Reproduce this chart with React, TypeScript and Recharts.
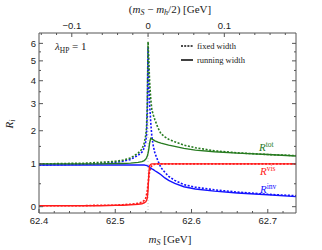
import { LineChart, Line, XAxis, YAxis, ReferenceLine } from 'recharts';

// m_S grid [GeV]
const mS = [62.40, 62.43, 62.46, 62.48, 62.50, 62.51, 62.52, 62.53, 62.535, 62.538, 62.540, 62.541, 62.542, 62.543, 62.544, 62.545, 62.5465, 62.548, 62.55, 62.552, 62.556, 62.56, 62.565, 62.57, 62.578, 62.59, 62.605, 62.63, 62.66, 62.70, 62.737];

// fixed width (dotted)
const totFixed = [1.00, 1.01, 1.02, 1.04, 1.07, 1.10, 1.16, 1.30, 1.42, 1.60, 1.85, 2.10, 3.00, 6.10, 5.00, 4.00, 3.20, 2.75, 2.55, 2.38, 2.10, 1.90, 1.80, 1.72, 1.64, 1.54, 1.46, 1.37, 1.31, 1.26, 1.23];
const invFixed = [0.97, 0.98, 0.99, 1.01, 1.04, 1.07, 1.12, 1.24, 1.33, 1.45, 1.65, 1.85, 2.70, 5.80, 4.00, 3.00, 2.30, 1.80, 1.50, 1.30, 1.08, 0.90, 0.78, 0.68, 0.58, 0.48, 0.42, 0.36, 0.31, 0.26, 0.23];
const visFixed = [0.02, 0.02, 0.02, 0.03, 0.03, 0.04, 0.05, 0.07, 0.09, 0.13, 0.18, 0.25, 0.35, 0.50, 0.65, 0.80, 0.90, 0.95, 0.98, 0.99, 1, 1, 1, 1, 1, 1, 1, 1, 1, 1, 1];

// running width (solid)
const totRun = [1.00, 1.00, 1.00, 1.00, 1.01, 1.01, 1.02, 1.04, 1.06, 1.09, 1.13, 1.17, 1.22, 1.30, 1.42, 1.60, 1.75, 1.73, 1.70, 1.67, 1.63, 1.60, 1.57, 1.54, 1.50, 1.44, 1.39, 1.34, 1.30, 1.26, 1.22];
const invRun = [0.97, 0.97, 0.97, 0.97, 0.97, 0.97, 0.97, 0.97, 0.97, 0.97, 0.96, 0.96, 0.95, 0.94, 0.93, 0.91, 0.89, 0.87, 0.85, 0.82, 0.77, 0.72, 0.64, 0.58, 0.51, 0.43, 0.38, 0.33, 0.29, 0.25, 0.21];
const visRun = [0.02, 0.02, 0.02, 0.02, 0.03, 0.03, 0.04, 0.05, 0.06, 0.08, 0.10, 0.13, 0.18, 0.35, 0.75, 0.95, 0.99, 1, 1, 1, 1, 1, 1, 1, 1, 1, 1, 1, 1, 1, 1];

const halfMh = 62.543;
const xMajor = [62.4, 62.5, 62.6, 62.7];
const xTicks = Array.from({ length: 17 }, (_, i) => +(62.4 + i * 0.02).toFixed(3));
const topMajor = [-0.1, 0, 0.1];
const topTicks = Array.from({ length: 17 }, (_, i) => +(halfMh + (i - 7) * 0.02).toFixed(4));
const yMajor = [0, 1, 2, 3, 4, 5, 6];
const yMinor = [0.5, 1.5, 2.5, 3.5, 4.5, 5.5];

// y axis is drawn on a log(R + 3) scale
const tf = (v: number) => Math.log(v + 3);
const inv = (t: number) => Math.exp(t) - 3;

const data = mS.map((m, i) => ({
  m,
  totFixed: tf(totFixed[i]),
  invFixed: tf(invFixed[i]),
  visFixed: tf(visFixed[i]),
  totRun: tf(totRun[i]),
  invRun: tf(invRun[i]),
  visRun: tf(visRun[i]),
}));

const yTicks = [...yMajor, ...yMinor].sort((a, b) => a - b).map(tf);

const GREEN = '#267a1f';
const RED = '#ff1a1a';
const BLUE = '#1414ff';
const AXIS = '#555';
const tickFont = { fontFamily: 'Liberation Sans, Arial, sans-serif', fontSize: 9.5, fill: '#222' };
const serif = 'Liberation Serif, Times New Roman, serif';

const near = (a: number, arr: number[]) => arr.some((b) => Math.abs(a - b) < 1e-6);

const FrameTick = (props: any) => {
  const { x, y, payload, side } = props;
  const v = payload.value;
  let major = false;
  let label = '';
  if (side === 'bottom') {
    major = near(v, xMajor);
    label = major ? v.toFixed(1) : '';
  } else if (side === 'top') {
    const d = +(v - halfMh).toFixed(4);
    major = near(d, topMajor);
    label = major ? (Math.abs(d) < 1e-6 ? '0' : d < 0 ? '\u2212' + Math.abs(d).toFixed(1) : d.toFixed(1)) : '';
  } else {
    const r = inv(v);
    major = near(Math.round(r * 100) / 100, yMajor);
    label = side === 'left' && major ? String(Math.round(r)) : '';
  }
  const len = major ? 4 : 2;
  if (side === 'bottom')
    return (
      <g>
        <line x1={x} x2={x} y1={y} y2={y - len} stroke={AXIS} />
        {label && <text x={x} y={y + 11} textAnchor="middle" {...tickFont}>{label}</text>}
      </g>
    );
  if (side === 'top')
    return (
      <g>
        <line x1={x} x2={x} y1={y} y2={y + len} stroke={AXIS} />
        {label && <text x={x} y={y - 4} textAnchor="middle" {...tickFont}>{label}</text>}
      </g>
    );
  if (side === 'left')
    return (
      <g>
        <line x1={x} x2={x + len} y1={y} y2={y} stroke={AXIS} />
        {label && <text x={x - 3} y={y + 3.5} textAnchor="end" {...tickFont}>{label}</text>}
      </g>
    );
  return <line x1={x} x2={x - len} y1={y} y2={y} stroke={AXIS} />;
};

const dotted = '2 1.6';

export default function App() {
  return (
    <div style={{ position: 'absolute', left: 0, top: 0, width: 322, height: 250 }}>
      <LineChart width={322} height={250} data={data} margin={{ top: 0, right: 0, bottom: 0, left: 0 }}>
        <XAxis
          dataKey="m"
          type="number"
          domain={[62.4, 62.737]}
          ticks={xTicks}
          interval={0}
          height={37}
          tickSize={0}
          tickMargin={0}
          stroke={AXIS}
          tick={(p: any) => <FrameTick {...p} side="bottom" />}
          allowDataOverflow
        />
        <XAxis
          xAxisId="top"
          orientation="top"
          dataKey="m"
          type="number"
          domain={[62.4, 62.737]}
          ticks={topTicks}
          interval={0}
          height={33}
          tickSize={0}
          tickMargin={0}
          stroke={AXIS}
          tick={(p: any) => <FrameTick {...p} side="top" />}
          allowDataOverflow
        />
        <YAxis
          type="number"
          domain={[tf(-0.125), tf(6.65)]}
          ticks={yTicks}
          interval={0}
          width={39}
          tickSize={0}
          tickMargin={0}
          stroke={AXIS}
          tick={(p: any) => <FrameTick {...p} side="left" />}
          allowDataOverflow
        />
        <YAxis
          yAxisId="right"
          orientation="right"
          type="number"
          domain={[tf(-0.125), tf(6.65)]}
          ticks={yTicks}
          interval={0}
          width={26}
          tickSize={0}
          tickMargin={0}
          stroke={AXIS}
          tick={(p: any) => <FrameTick {...p} side="right" />}
          allowDataOverflow
        />
        <ReferenceLine x={halfMh} stroke="#c8c8c8" strokeWidth={1} strokeDasharray="1 2" />
        <Line xAxisId="top" yAxisId="right" dataKey="totRun" stroke="none" dot={false} isAnimationActive={false} />
        <Line dataKey="invFixed" stroke={BLUE} strokeWidth={1.6} strokeDasharray={dotted} dot={false} isAnimationActive={false} />
        <Line dataKey="totFixed" stroke={GREEN} strokeWidth={1.6} strokeDasharray={dotted} dot={false} isAnimationActive={false} />
        <Line dataKey="visFixed" stroke={RED} strokeWidth={1.6} strokeDasharray={dotted} dot={false} isAnimationActive={false} />
        <Line dataKey="invRun" stroke={BLUE} strokeWidth={1.4} dot={false} isAnimationActive={false} />
        <Line dataKey="visRun" stroke={RED} strokeWidth={1.4} dot={false} isAnimationActive={false} />
        <Line dataKey="totRun" stroke={GREEN} strokeWidth={1.4} dot={false} isAnimationActive={false} />
      </LineChart>
      <svg width={322} height={250} style={{ position: 'absolute', left: 0, top: 0, pointerEvents: 'none' }}>
        <text x={170} y={13} textAnchor="middle" fontFamily={serif} fontSize={11} fill="#222">
          (<tspan fontStyle="italic">m</tspan><tspan fontSize={8} dy={2} fontStyle="italic">S</tspan>
          <tspan dy={-2}>{' \u2212 '}</tspan><tspan fontStyle="italic">m</tspan><tspan fontSize={8} dy={2} fontStyle="italic">h</tspan>
          <tspan dy={-2}>/2) [GeV]</tspan>
        </text>
        <text x={170} y={243} textAnchor="middle" fontFamily={serif} fontSize={11} fill="#222">
          <tspan fontStyle="italic">m</tspan><tspan fontSize={8} dy={2} fontStyle="italic">S</tspan>
          <tspan dy={-2}> [GeV]</tspan>
        </text>
        <text x={13} y={124} textAnchor="middle" fontFamily={serif} fontSize={11} fill="#222" transform="rotate(-90 13 124)">
          <tspan fontStyle="italic">R</tspan><tspan fontSize={8} dy={2} fontStyle="italic">i</tspan>
        </text>
        <text x={55} y={50} fontFamily={serif} fontSize={11} fill="#222">
          <tspan fontStyle="italic">λ</tspan><tspan fontSize={7.5} dy={2.5}>HP</tspan><tspan dy={-2.5}> = 1</tspan>
        </text>
        <line x1={181} x2={193} y1={46} y2={46} stroke="#111" strokeWidth={1.5} strokeDasharray="2 1.2" />
        <text x={197} y={49} fontFamily={serif} fontSize={8.5} fill="#222">fixed width</text>
        <line x1={181} x2={193} y1={60} y2={60} stroke="#111" strokeWidth={1.6} />
        <text x={197} y={63} fontFamily={serif} fontSize={8.5} fill="#222">running width</text>
        <text x={259} y={151} fontFamily={serif} fontSize={11} fill={GREEN}>
          <tspan fontStyle="italic">R</tspan><tspan fontSize={7.5} dy={-4}>tot</tspan>
        </text>
        <text x={260} y={175} fontFamily={serif} fontSize={11} fill={RED}>
          <tspan fontStyle="italic">R</tspan><tspan fontSize={7.5} dy={-4}>vis</tspan>
        </text>
        <text x={260} y={193} fontFamily={serif} fontSize={11} fill={BLUE}>
          <tspan fontStyle="italic">R</tspan><tspan fontSize={7.5} dy={-4}>inv</tspan>
        </text>
      </svg>
    </div>
  );
}
